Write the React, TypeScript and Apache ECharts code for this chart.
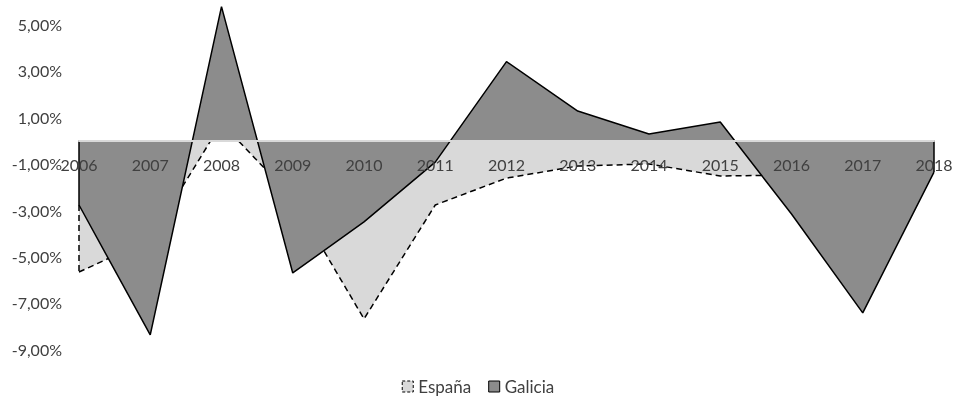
import React, { useEffect, useRef } from "react";
import * as echarts from "echarts";

const years = ["2006", "2007", "2008", "2009", "2010", "2011", "2012", "2013", "2014", "2015", "2016", "2017", "2018"];
const espana = [-5.67, -4.25, 0.75, -2.48, -7.69, -2.78, -1.62, -1.1, -1.01, -1.53, -1.49, -1.3, -1.2];
const galicia = [-2.78, -8.38, 5.77, -5.71, -3.51, -0.93, 3.4, 1.27, 0.28, 0.8, -3.17, -7.43, -1.36];
const yTicks = { min: -9, max: 6, interval: 2 };

const FONT = "Lato";
const TEXT = "#404040";
const fmt = (v: number) => v.toFixed(2).replace(".", ",") + "%";

export default function App() {
  const ref = useRef<HTMLDivElement>(null);
  useEffect(() => {
    const chart = echarts.init(ref.current!, null, { renderer: "svg" });
    const last = years.length - 1;
    const gridTop = 1.3;
    const gridBottom = 54.7;
    const plotH = 404 - gridTop - gridBottom;
    const zeroOffset = (plotH * (0 - yTicks.min)) / (yTicks.max - yTicks.min);
    chart.setOption({
      animation: false,
      textStyle: { fontFamily: FONT },
      grid: { left: 79, right: 22, top: gridTop, bottom: gridBottom, containLabel: false },
      legend: {
        bottom: 4,
        left: "center",
        itemWidth: 11,
        itemHeight: 11,
        itemGap: 17,
        textStyle: { fontFamily: FONT, fontSize: 17, color: TEXT },
        data: [
          { name: "España", icon: "rect", itemStyle: { color: "#d9d9d9", borderColor: "#000", borderWidth: 1, borderType: [3, 2] } },
          { name: "Galicia", icon: "rect", itemStyle: { color: "#8c8c8c", borderColor: "#000", borderWidth: 1 } },
        ],
      },
      xAxis: {
        type: "category",
        data: years,
        boundaryGap: false,
        position: "bottom",
        offset: -zeroOffset,
        z: 10,
        axisLine: { onZero: false, lineStyle: { color: "#d9d9d9", width: 2 } },
        axisTick: { show: false },
        axisLabel: { fontFamily: FONT, fontSize: 16, color: TEXT, margin: 16, interval: 0 },
        splitLine: { show: false },
      },
      yAxis: {
        type: "value",
        min: yTicks.min,
        max: yTicks.max,
        interval: yTicks.interval,
        axisLine: { show: false },
        axisTick: { show: false },
        splitLine: { show: false },
        axisLabel: {
          fontFamily: FONT,
          fontSize: 16,
          color: TEXT,
          margin: 17,
          showMaxLabel: false,
          formatter: (v: number) => fmt(v),
        },
      },
      series: [
        {
          name: "España",
          type: "line",
          data: espana,
          symbol: "none",
          lineStyle: { color: "#000", width: 1.5, type: [6, 4] },
          itemStyle: { color: "#d9d9d9" },
          areaStyle: { color: "#d9d9d9", opacity: 1 },
          z: 2,
          markLine: {
            silent: true,
            symbol: "none",
            label: { show: false },
            lineStyle: { color: "#000", width: 1.5, type: [6, 4] },
            data: [[{ coord: [0, galicia[0]] }, { coord: [0, espana[0]] }]],
          },
        },
        {
          name: "Galicia",
          type: "line",
          data: galicia,
          symbol: "none",
          lineStyle: { color: "#000", width: 1.5 },
          itemStyle: { color: "#8c8c8c" },
          areaStyle: { color: "#8c8c8c", opacity: 1 },
          z: 3,
          markLine: {
            silent: true,
            symbol: "none",
            label: { show: false },
            lineStyle: { color: "#000", width: 1.5, type: "solid" },
            data: [
              [{ coord: [0, 0] }, { coord: [0, galicia[0]] }],
              [{ coord: [last, 0] }, { coord: [last, galicia[last]] }],
            ],
          },
        },
      ],
    });
    return () => chart.dispose();
  }, []);
  return <div ref={ref} style={{ position: "fixed", left: 0, top: 0, width: 956, height: 404 }} />;
}
